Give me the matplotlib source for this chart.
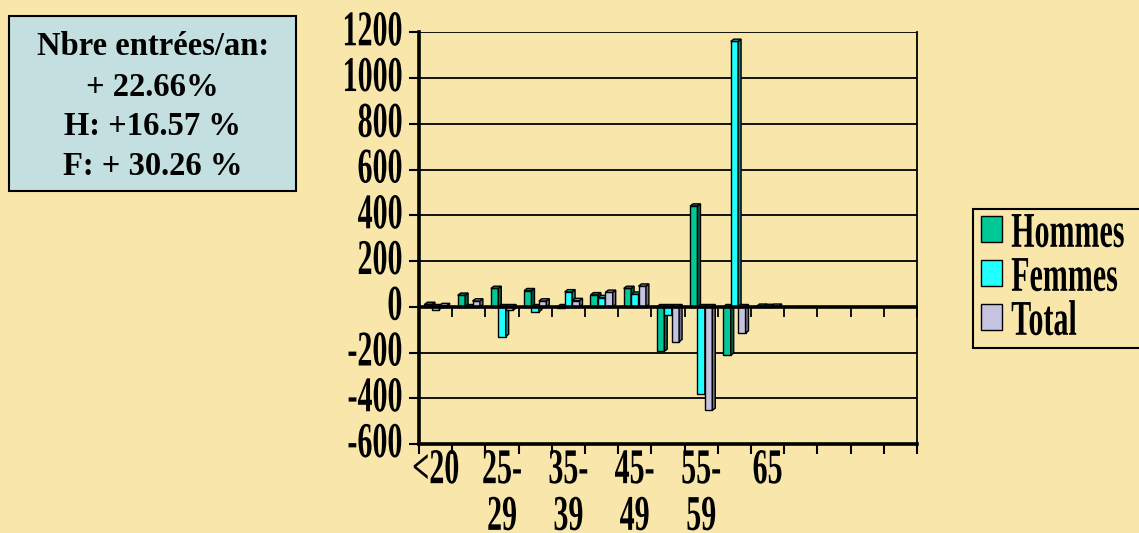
import numpy as np
import matplotlib
matplotlib.use('Agg')
import matplotlib.pyplot as plt
from matplotlib.patches import Polygon, Rectangle
from matplotlib.patheffects import AbstractPathEffect
from matplotlib.transforms import Affine2D, ScaledTranslation
from matplotlib.legend_handler import HandlerPatch

# ---------------- data ----------------
tick_labels = ['<20', '', '25-\n29', '', '35-\n39', '', '45-\n49', '', '55-\n59', '', '65', '', '', '', '']
series_names = ['Hommes', 'Femmes', 'Total']
hommes = [10, 50, 80, 70, -6, 52, 80, -195, 440, -212, 2, np.nan, np.nan, np.nan, np.nan]
femmes = [-12, 0, -130, -22, 65, 40, 55, -37, -382, 1160, 1, np.nan, np.nan, np.nan, np.nan]
total = [5, 25, -15, 25, 27, 63, 90, -153, -453, -115, 2, np.nan, np.nan, np.nan, np.nan]
y_ticks = [-600, -400, -200, 0, 200, 400, 600, 800, 1000, 1200]
box_lines = ['Nbre entrées/an:', '+ 22.66%', 'H: +16.57 %', 'F: + 30.26 %']

# ---------------- style ----------------
BG = '#F9E6AB'
BOX = '#C3DFE0'
face_colors = ['#00C896', '#22FFFF', '#C4C4E0']
side_colors = ['#00634A', '#008A8A', '#6E6E84']
top_colors = ['#007F60', '#00B4B4', '#8E8EA8']

plt.rcParams['font.family'] = ['Liberation Serif', 'DejaVu Serif']
plt.rcParams['font.weight'] = 'bold'
plt.rcParams['axes.unicode_minus'] = False


class Condense(AbstractPathEffect):
    """Horizontally condense text glyphs (the original uses a narrow bold serif)."""

    def __init__(self, sx=0.6, anchor='center'):
        super().__init__()
        self.sx = sx
        self.anchor = anchor

    def draw_path(self, renderer, gc, tpath, affine, rgbFace=None):
        if len(tpath.vertices) == 0:
            return
        ext = tpath.get_extents()
        if self.anchor == 'left':
            a = 0.0
        elif self.anchor == 'right':
            a = ext.x1
        else:
            a = 0.5 * (ext.x0 + ext.x1)
        t = Affine2D().translate(-a, 0).scale(self.sx, 1.0).translate(a, 0)
        renderer.draw_path(gc, tpath, t + affine, rgbFace)


W, H = 1139, 533
fig = plt.figure(figsize=(W / 100, H / 100), dpi=100, facecolor=BG)
ax = fig.add_axes([419 / W, 1 - 444 / H, 498 / W, (444 - 32.3) / H])
ax.set_facecolor(BG)

n = len(tick_labels)
x = np.arange(n)
w = 0.223
offsets = [-w, 0.0, w]
dx = 0.09   # depth of the 3-D effect (x, in category units)
dy = 10.0   # depth of the 3-D effect (y, in value units)

handles = []
for k, (vals, fc, sc, tc) in enumerate(zip([hommes, femmes, total], face_colors, side_colors, top_colors)):
    vals = np.asarray(vals, float)
    xs = x + offsets[k]
    z = 3 + 0.1 * k
    bc = ax.bar(xs, vals, w, color=fc, edgecolor='black', linewidth=1.0, zorder=z, label=series_names[k])
    handles.append(bc.patches[0])
    for xi, v in zip(xs, vals):
        if np.isnan(v):
            continue
        x0, x1 = xi - w / 2, xi + w / 2
        lo, hi = min(v, 0.0), max(v, 0.0)
        side = Polygon([(x1, lo), (x1 + dx, lo + dy), (x1 + dx, hi + dy), (x1, hi)], closed=True,
                       facecolor=sc, edgecolor='black', linewidth=1.0, zorder=z)
        top = Polygon([(x0, hi), (x0 + dx, hi + dy), (x1 + dx, hi + dy), (x1, hi)], closed=True,
                      facecolor=tc, edgecolor='black', linewidth=1.0, zorder=z)
        ax.add_patch(side)
        ax.add_patch(top)

bounds = np.arange(-0.5, n, 1.0)
ax.set_xlim(-0.5, n - 0.5)
ax.set_ylim(y_ticks[0], y_ticks[-1])

# zero line with its small ticks
ax.axhline(0, color='black', linewidth=2.6, zorder=5)
ax.plot(bounds, np.zeros_like(bounds), ls='none', marker=3, ms=7, mew=1.3, color='black',
        zorder=5, clip_on=False)

# grid / spines
ax.set_yticks(y_ticks)
ax.yaxis.grid(True, color='black', linewidth=1.3)
ax.set_axisbelow(True)
ax.spines['top'].set_visible(False)
ax.spines['left'].set_linewidth(2.6)
ax.spines['bottom'].set_linewidth(2.6)
ax.spines['right'].set_linewidth(1.3)

# ticks
ax.set_xticks(x)
ax.set_xticklabels(tick_labels)
ax.set_xticks(bounds, minor=True)
ax.tick_params(axis='x', which='major', length=0, pad=3.0, labelsize=36)
ax.tick_params(axis='x', which='minor', length=7, width=1.5, direction='out')
ax.tick_params(axis='y', which='major', length=7, width=1.5, direction='out', pad=4.5, labelsize=36)

for lab in ax.get_xticklabels():
    lab.set_fontweight('bold')
    lab.set_linespacing(1.02)
    lab.set_path_effects([Condense(0.6, 'center')])
for lab in ax.get_yticklabels():
    lab.set_fontweight('bold')
    lab.set_path_effects([Condense(0.6, 'right')])
    lab.set_transform(lab.get_transform() + ScaledTranslation(0, 0.045, fig.dpi_scale_trans))

# legend
leg = fig.legend(handles, series_names, loc='upper left', bbox_to_anchor=(972.7 / W, 1 - 209.3 / H),
                 fontsize=36, handlelength=0.54, handleheight=0.42, handletextpad=0.18,
                 labelspacing=-0.04, borderpad=0.05, borderaxespad=0.0, frameon=True, fancybox=False,
                 edgecolor='black', facecolor=BG, framealpha=1.0,
                 handler_map={Rectangle: HandlerPatch(xpad=0.12)})
leg.get_frame().set_linewidth(1.5)
for t in leg.get_texts():
    t.set_fontweight('bold')
    t.set_path_effects([Condense(0.6, 'left')])

# annotation box
rect = Rectangle((9.3 / W, 1 - 190.7 / H), (296 - 9.3) / W, (190.7 - 16) / H, transform=fig.transFigure,
                 facecolor=BOX, edgecolor='black', linewidth=1.5)
fig.add_artist(rect)
for line, base in zip(box_lines, [55, 96, 135, 175]):
    fig.text(152.7 / W, 1 - base / H, line, ha='center', va='baseline', fontsize=23.5,
             fontweight='bold', color='black')

fig.savefig('out.png', dpi=100, facecolor=BG)
